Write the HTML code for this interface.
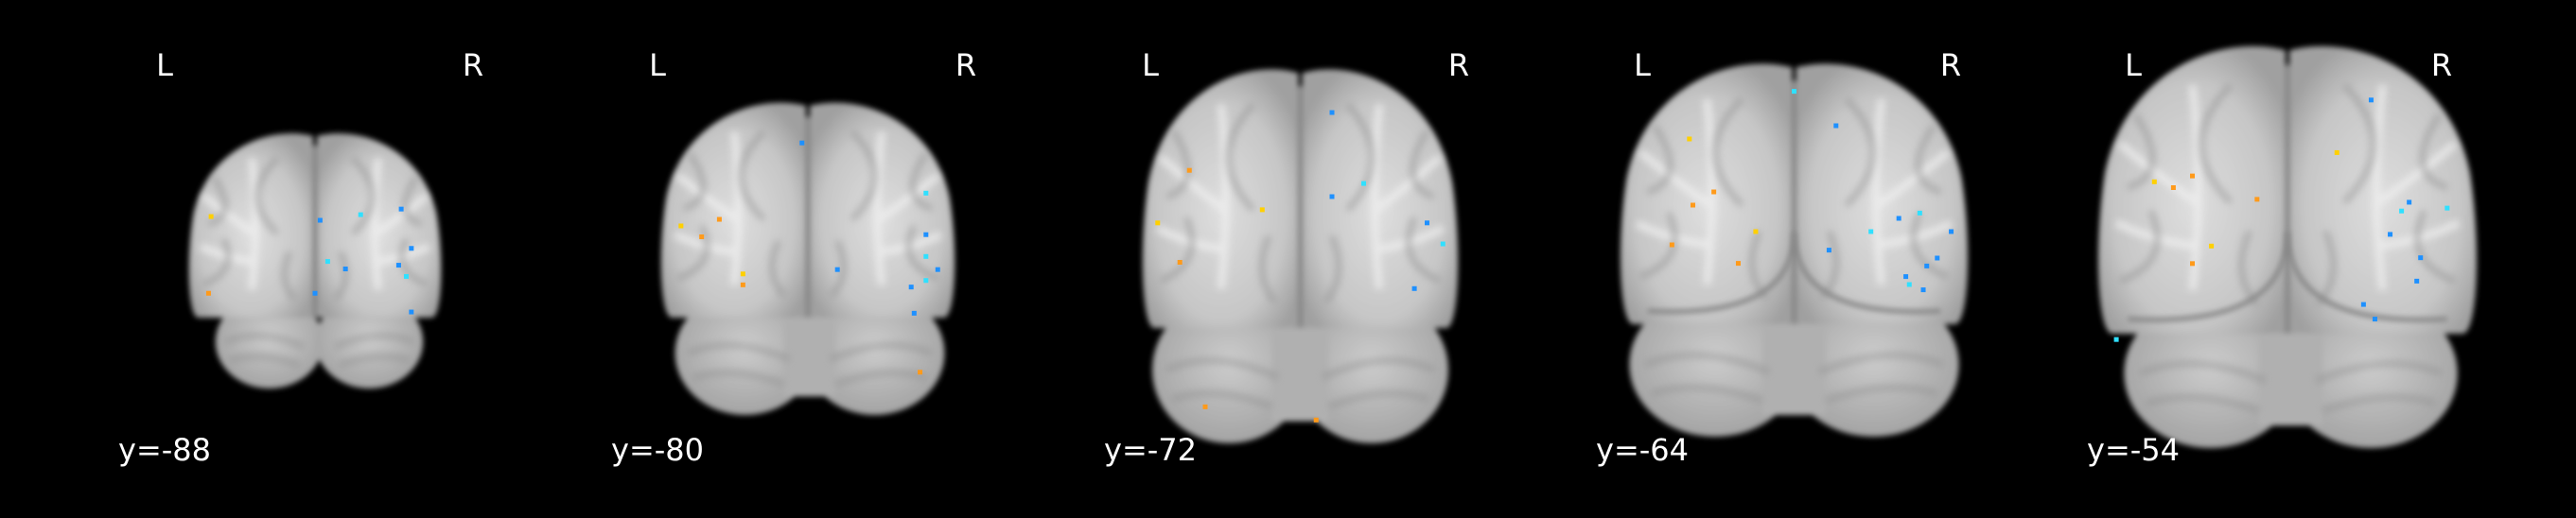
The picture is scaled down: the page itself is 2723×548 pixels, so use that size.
<!DOCTYPE html>
<html><head><meta charset="utf-8"><style>
html,body{margin:0;padding:0;background:#000;width:2723px;height:548px;overflow:hidden}
svg{display:block}
text{font-family:"DejaVu Sans","Liberation Sans",sans-serif;fill:#fff}
</style></head><body>
<svg id="fig" width="2723" height="548" viewBox="0 0 2723 548">
<defs>
<filter id="blur" x="-10%" y="-10%" width="120%" height="120%"><feGaussianBlur stdDeviation="3"/></filter>
<filter id="blur2" x="-20%" y="-20%" width="140%" height="140%"><feGaussianBlur stdDeviation="4"/></filter>
<radialGradient id="hemi" cx="50%" cy="55%" r="60%"><stop offset="0" stop-color="#dedede"/><stop offset="0.7" stop-color="#c6c6c6"/><stop offset="1" stop-color="#a0a0a0"/></radialGradient>
<radialGradient id="cb" cx="50%" cy="45%" r="60%"><stop offset="0" stop-color="#cccccc"/><stop offset="1" stop-color="#a0a0a0"/></radialGradient>
</defs>
<g id="panels"></g>
</svg>
<script>
// slice labels and brain bounding boxes (cerebrum x0,x1,y0,y1 ; cerebellum x0,x1,y1)
const sliceLabels = ["y=-88","y=-80","y=-72","y=-64","y=-54"];
const panelLeft = [0,521,1042,1562,2081];
const cerebX0 = [199,698,1207,1712,2217];
const cerebX1 = [467,1010,1542,2081,2619];
const cerebY0 = [138,105,69,63,44];
const cerebY1 = [336,336,347,343,353];
const cbX0 = [232,719,1224,1729,2252];
const cbX1 = [443,993,1525,2064,2591];
const cbY1 = [411,439,469,462,474];
// activation blobs: panel index, relative x, relative y (in cerebrum box, cerebellum y>1), sign (1 positive/orange, -1 negative/blue)
const blobPanel = [0,0,0,0,0,0,0,0,0,0,0,0, 1,1,1,1,1,1,1,1,1,1,1,1,1,1,1, 2,2,2,2,2,2,2,2,2,2,2,2, 3,3,3,3,3,3,3,3,3,3,3,3,3,3,3,3,3,3, 4,4,4,4,4,4,4,4,4,4,4,4,4,4,4,4,4];
const blobX = [0.09,0.08,0.52,0.68,0.84,0.88,0.86,0.83,0.62,0.55,0.5,0.88, 0.07,0.2,0.14,0.28,0.28,0.48,0.9,0.9,0.94,0.9,0.85,0.86,0.9,0.6,0.88, 0.05,0.15,0.12,0.38,0.6,0.9,0.95,0.86,0.6,0.7,0.2,0.55, 0.2,0.21,0.27,0.39,0.15,0.34,0.86,0.95,0.87,0.83,0.82,0.91,0.72,0.6,0.8,0.5,0.62,0.88, 0.15,0.2,0.25,0.3,0.25,0.42,0.63,0.72,0.82,0.92,0.84,0.85,0.8,0.77,0.7,0.05,0.73];
const blobY = [0.46,0.87,0.48,0.45,0.42,0.63,0.78,0.72,0.74,0.7,0.87,0.97, 0.58,0.55,0.63,0.8,0.85,0.2,0.43,0.62,0.78,0.83,0.86,0.98,0.72,0.78,1.25, 0.6,0.4,0.75,0.55,0.5,0.6,0.68,0.85,0.18,0.45,1.3,1.35, 0.3,0.55,0.5,0.65,0.7,0.77,0.58,0.65,0.87,0.85,0.82,0.75,0.65,0.72,0.6,0.12,0.25,0.78, 0.48,0.5,0.46,0.7,0.76,0.54,0.38,0.2,0.55,0.57,0.82,0.74,0.58,0.66,0.9,1.02,0.95];
const blobSign = [1,1,-1,-1,-1,-1,-1,-1,-1,-1,-1,-1, 1,1,1,1,1,-1,-1,-1,-1,-1,-1,-1,-1,-1,1, 1,1,1,1,-1,-1,-1,-1,-1,-1,1,1, 1,1,1,1,1,1,-1,-1,-1,-1,-1,-1,-1,-1,-1,-1,-1,-1, 1,1,1,1,1,1,1,-1,-1,-1,-1,-1,-1,-1,-1,-1,-1];

const NS="http://www.w3.org/2000/svg";
const root=document.getElementById('panels');
function mk(tag,attrs,parent){const e=document.createElementNS(NS,tag);for(const k in attrs)e.setAttribute(k,attrs[k]);parent.appendChild(e);return e;}
function hemiPath(x0,x1,y0,y1,left){
  const w=x1-x0,h=y1-y0;
  if(left) return `M${x1},${y0+h*0.03} C${x1-w*0.35},${y0-h*0.03} ${x0+w*0.15},${y0+h*0.1} ${x0+w*0.04},${y0+h*0.45} C${x0-w*0.02},${y0+h*0.7} ${x0},${y1} ${x0+w*0.08},${y1} L${x1},${y1} Z`;
  return `M${x0},${y0+h*0.03} C${x0+w*0.35},${y0-h*0.03} ${x1-w*0.15},${y0+h*0.1} ${x1-w*0.04},${y0+h*0.45} C${x1+w*0.02},${y0+h*0.7} ${x1},${y1} ${x1-w*0.08},${y1} L${x0},${y1} Z`;
}
for(let p=0;p<5;p++){
  const g=mk('g',{},root);
  
  
  const x0=cerebX0[p],x1=cerebX1[p],y0=cerebY0[p],y1=cerebY1[p],mx=(x0+x1)/2;
  const W=x1-x0,H=y1-y0;
  const brain=mk('g',{filter:'url(#blur)'},g);
  
  
  const cw=cbX1[p]-cbX0[p], cmx=(cbX0[p]+cbX1[p])/2, cy0=y1-H*0.12, ch=cbY1[p]-cy0;
  mk('ellipse',{cx:cmx-cw*0.25,cy:cy0+ch*0.5,rx:cw*0.27,ry:ch*0.5,fill:'url(#cb)'},brain);
  mk('ellipse',{cx:cmx+cw*0.25,cy:cy0+ch*0.5,rx:cw*0.27,ry:ch*0.5,fill:'url(#cb)'},brain);
  if(p>=1) mk('rect',{x:cmx-cw*0.1,y:cy0,width:cw*0.2,height:ch*0.85,fill:'#b0b0b0'},brain);
  mk('path',{d:hemiPath(x0,mx-2,y0,y1,true),fill:'url(#hemi)'},brain);
  mk('path',{d:hemiPath(mx+2,x1,y0,y1,false),fill:'url(#hemi)'},brain);
  mk('rect',{x:mx-3,y:y0+H*0.08,width:6,height:H*0.92,fill:'#888'},brain);
  // white matter tracts
  const wm=mk('g',{filter:'url(#blur2)',stroke:'#efefef','stroke-width':8,fill:'none',opacity:0.8},g);
  // sulci
  const sul=mk('g',{filter:'url(#blur2)',stroke:'#8e8e8e','stroke-width':6,fill:'none',opacity:0.55},g);
  for(const s of [-1,1]){
    mk('path',{d:`M${mx+s*W*0.25},${y0+H*0.85} Q${mx+s*W*0.22},${y0+H*0.5} ${mx+s*W*0.25},${y0+H*0.15}`},wm);
    mk('path',{d:`M${mx+s*W*0.24},${y0+H*0.55} Q${mx+s*W*0.35},${y0+H*0.45} ${mx+s*W*0.44},${y0+H*0.35}`},wm);
    mk('path',{d:`M${mx+s*W*0.24},${y0+H*0.7} Q${mx+s*W*0.36},${y0+H*0.68} ${mx+s*W*0.45},${y0+H*0.62}`},wm);
    mk('path',{d:`M${mx+s*W*0.15},${y0+H*0.15} Q${mx+s*W*0.3},${y0+H*0.35} ${mx+s*W*0.15},${y0+H*0.55}`},sul);
    mk('path',{d:`M${mx+s*W*0.4},${y0+H*0.25} Q${mx+s*W*0.3},${y0+H*0.45} ${mx+s*W*0.42},${y0+H*0.5}`},sul);
    mk('path',{d:`M${mx+s*W*0.36},${y0+H*0.58} Q${mx+s*W*0.3},${y0+H*0.75} ${mx+s*W*0.44},${y0+H*0.82}`},sul);
    mk('path',{d:`M${mx+s*W*0.1},${y0+H*0.65} Q${mx+s*W*0.15},${y0+H*0.8} ${mx+s*W*0.08},${y0+H*0.9}`},sul);
    mk('path',{d:`M${cmx+s*cw*0.08},${cy0+ch*0.55} Q${cmx+s*cw*0.3},${cy0+ch*0.35} ${cmx+s*cw*0.47},${cy0+ch*0.5}`},sul);
    mk('path',{d:`M${cmx+s*cw*0.1},${cy0+ch*0.75} Q${cmx+s*cw*0.3},${cy0+ch*0.6} ${cmx+s*cw*0.45},${cy0+ch*0.7}`},sul);
  }
  if(p>=3){
    mk('path',{d:`M${x0+W*0.08},${y1-H*0.05} Q${mx},${y1-H*0.02} ${mx},${y1-H*0.35} Q${mx},${y1-H*0.02} ${x1-W*0.08},${y1-H*0.05}`,stroke:'#888','stroke-width':5,fill:'none',filter:'url(#blur)'},g);
  }
  const L=mk('text',{x:panelLeft[p]+174,y:80,'font-size':32,'text-anchor':'middle'},g);L.textContent='L';
  
  const R=mk('text',{x:panelLeft[p]+500,y:80,'font-size':32,'text-anchor':'middle'},g);R.textContent='R';
  
  const c=mk('text',{x:panelLeft[p]+125,y:487,'font-size':32},g);c.textContent=sliceLabels[p];
  
}
const blobs=mk('g',{},root);


for(let i=0;i<blobPanel.length;i++){
  const p=blobPanel[i];
  const W=cerebX1[p]-cerebX0[p],H=cerebY1[p]-cerebY0[p];
  const cx=cerebX0[p]+blobX[i]*W, cy=cerebY0[p]+blobY[i]*H;
  const col=blobSign[i]>0?(i%3===0?'#ffd000':'#ff9a1a'):(i%3===0?'#30e0ff':'#1e90ff');
  const d=mk('rect',{x:cx-2.5,y:cy-2.5,width:5,height:5,fill:col},blobs);
  
  
}
</script>
</body></html>
